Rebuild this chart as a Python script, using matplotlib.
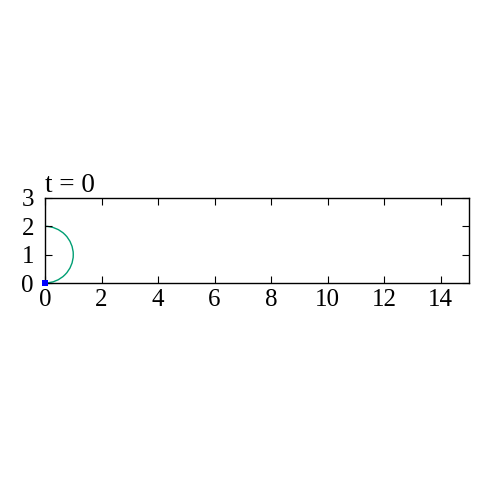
# Snapshot of a droplet/interface profile at t = 0
import matplotlib.pyplot as plt
from matplotlib.patches import Arc

plt.rcParams['font.family'] = ['Liberation Serif', 'DejaVu Serif']

title = 't = 0'
x_lim = (0, 15)
y_lim = (0, 3)
x_ticks = [0, 2, 4, 6, 8, 10, 12, 14]
y_ticks = [0, 1, 2, 3]

# interface: half circle
center_x, center_y = 0.0, 1.0
radius = 1.0

# contact point
point_x = [0.0]
point_y = [0.0]


def main():
    fig = plt.figure(figsize=(5, 5), dpi=100)
    ax = fig.add_axes([0.09, 0.434, 0.848, 0.17])

    arc = Arc((center_x, center_y), 2 * radius, 2 * radius, theta1=-90, theta2=90,
              color='#009e73', lw=1.0)
    ax.add_patch(arc)
    ax.plot(point_x, point_y, 's', color='#0000ff', markersize=4.5, markeredgewidth=0,
            clip_on=False, zorder=5)

    ax.set_xlim(*x_lim)
    ax.set_ylim(*y_lim)
    ax.set_xticks(x_ticks)
    ax.set_yticks(y_ticks)
    ax.tick_params(direction='in', top=True, right=True, labelsize=18, length=5)
    ax.tick_params(axis='x', pad=4)
    ax.tick_params(axis='y', pad=8)
    for s in ax.spines.values():
        s.set_linewidth(1.0)
    ax.set_title(title, loc='left', fontsize=19.5, pad=4)

    fig.savefig('out.png')


if __name__ == '__main__':
    main()
